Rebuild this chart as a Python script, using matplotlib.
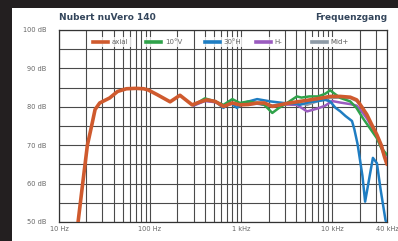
import numpy as np
import matplotlib.pyplot as plt
from matplotlib.ticker import FixedLocator, NullFormatter
from matplotlib.patches import Rectangle

# frequency response curves (Hz, dB)
axial_f = [16.2, 18.2, 20.5, 22.8, 24.9, 28, 36, 44, 55, 70, 85, 95, 119, 166, 213, 290, 355,
           420, 520, 640, 800, 970, 1200, 1500, 1800, 2200, 2800, 3400, 4400, 7300, 9500,
           12300, 15800, 18600, 20000, 24000, 27000, 31000, 34600, 37500, 40000]
axial_db = [50, 60, 70, 75, 79.3, 81, 82.3, 84, 84.7, 84.8, 84.7, 84.4, 83.2, 81.3, 83, 80.5,
            81.3, 81.8, 81.4, 80.1, 81, 80.5, 80.6, 81, 81, 80.1, 80.6, 81, 81.4, 82.2, 82.7,
            82.7, 82.5, 81.8, 80.8, 78, 75.5, 72.7, 70, 67, 65]

v10_f = [300, 330, 400, 520, 640, 800, 970, 1200, 1500, 1800, 2200, 2600, 3200, 4100, 4600,
         5600, 7000, 8400, 9500, 10500, 12300, 15800, 18500, 21800, 26000, 31000,
         34600, 40000]
v10_db = [80.5, 81, 82.2, 81.4, 80.5, 82, 81, 81.4, 81, 80.5, 78.4, 79.7, 81, 82.7, 82.4,
          82.7, 82.7, 83.4, 84.3, 83.5, 82.3, 81.4, 79.7, 77, 74.4, 71.8, 69.3, 67.5]

h30_f = [300, 330, 400, 520, 640, 740, 900, 1050, 1500, 2100, 2900, 4100, 4400, 5600,
         7000, 8400, 9500, 10800, 12300, 14000, 16500, 17500, 19000, 21500, 23000, 24600,
         28000, 31000, 34000, 38500, 40000]
h30_db = [80.5, 81, 81.8, 81.4, 79.7, 81.4, 79.7, 81, 82, 81.4, 81, 80.8, 80.5, 81.2,
          81.5, 81.8, 81.4, 79.8, 78.8, 77.6, 76.3, 74.2, 70.3, 62, 55.3, 59.2, 66.7, 65.3,
          58.5, 50.5, 49.5]

hm_f = [300, 400, 520, 640, 800, 1000, 1500, 2200, 3000, 4100, 5300, 7000, 8400, 10000,
        12300, 15800, 18600, 21500, 24000, 27000, 31000, 34600, 40000]
hm_db = [80.3, 81.5, 81.2, 80.3, 80.8, 80.5, 80.8, 80.2, 80.6, 80.5, 78.8, 79.6, 80.3,
         81.5, 81.1, 80.7, 80.3, 78.5, 77, 75, 72.5, 70, 66]

mid_f = [300, 400, 520, 640, 800, 1000, 1500, 2200, 3000, 4100, 5300, 7000, 9500, 12300,
         15800, 18600, 21500, 24000, 27000, 31000, 34600, 40000]
mid_db = [80.4, 81.6, 81.3, 80.2, 80.9, 80.6, 80.9, 80.3, 80.8, 81.2, 80.5, 81.5, 82.3,
          82.4, 82.3, 81.5, 79.8, 77.6, 74.8, 72, 69.3, 65.5]

series = [
    ("axial", axial_f, axial_db, "#cf5a2e", 2.6),
    ("10°V", v10_f, v10_db, "#2fa24a", 1.8),
    ("30°H", h30_f, h30_db, "#1f7dc2", 1.8),
    ("H-", hm_f, hm_db, "#9a5bbf", 1.8),
    ("Mid+", mid_f, mid_db, "#8d9aa6", 1.8),
]
draw_order = ["Mid+", "H-", "30°H", "10°V", "axial"]

xticks = [10, 100, 1000, 10000, 40000]
xlabels = ["10 Hz", "100 Hz", "1 kHz", "10 kHz", "40 kHz"]
yticks = [50, 60, 70, 80, 90, 100]
ylabels = ["50 dB", "60 dB", "70 dB", "80 dB", "90 dB", "100 dB"]

W, H = 398, 241
fig = plt.figure(figsize=(W / 100, H / 100), dpi=100, facecolor="#231f20")
fig.patches.append(Rectangle((12 / W, 0), 1, 1 - 8 / H, transform=fig.transFigure,
                             facecolor="white", edgecolor="none", zorder=-5))

ax = fig.add_axes([59 / W, 1 - 222 / H, 328 / W, 192 / H], zorder=2)
ax.set_facecolor("white")
ax.set_xscale("log")
ax.set_xlim(10, 40000)
ax.set_ylim(50, 100)

minor = [m * 10 ** d for d in range(1, 5) for m in range(2, 10) if m * 10 ** d < 40000]
ax.xaxis.set_major_locator(FixedLocator(xticks))
ax.xaxis.set_minor_locator(FixedLocator(minor))
ax.xaxis.set_minor_formatter(NullFormatter())
ax.set_xticklabels(xlabels)
ax.set_yticks(yticks)
ax.set_yticklabels(ylabels)
ax.set_yticks(np.arange(55, 100, 10), minor=True)
ax.grid(True, which="both", color="#4a4a4a", linewidth=0.8)
ax.set_axisbelow(True)
ax.tick_params(which="both", length=0, labelsize=4.8, labelcolor="#666666")
ax.tick_params(axis="x", pad=3)
ax.tick_params(axis="y", pad=9)
for s in ax.spines.values():
    s.set_color("#333333")
    s.set_linewidth(0.9)

lines = {}
for name, f, db, col, lw in series:
    lines[name] = (f, db, col, lw)
for i, name in enumerate(draw_order):
    f, db, col, lw = lines[name]
    ax.plot(f, db, color=col, linewidth=lw, solid_capstyle="round", zorder=3 + i)

# legend entries, each on its own white patch
leg_x = [95, 148, 207, 258, 314]
for (name, f, db, col, lw), px in zip(series, leg_x):
    h, = ax.plot([], [], color=col, linewidth=2.6)
    lg = ax.legend([h], [name], loc="center left",
                   bbox_to_anchor=((px - 63) / 328, (222 - 42) / 192),
                   frameon=True, fontsize=5, handlelength=2.2, handletextpad=0.5,
                   borderpad=0.3, borderaxespad=0, fancybox=False)
    lg.get_frame().set_facecolor("white")
    lg.get_frame().set_edgecolor("none")
    for t in lg.get_texts():
        t.set_color("#666666")
    lg.set_zorder(10)
    ax.add_artist(lg)

fig.text(59 / W, 1 - 18 / H, "Nubert nuVero 140", fontsize=6.5, fontweight="bold",
         color="#34465c", ha="left", va="center")
fig.text(387 / W, 1 - 18 / H, "Frequenzgang", fontsize=6.5, fontweight="bold",
         color="#34465c", ha="right", va="center")

fig.savefig("out.png", dpi=100, facecolor=fig.get_facecolor())
